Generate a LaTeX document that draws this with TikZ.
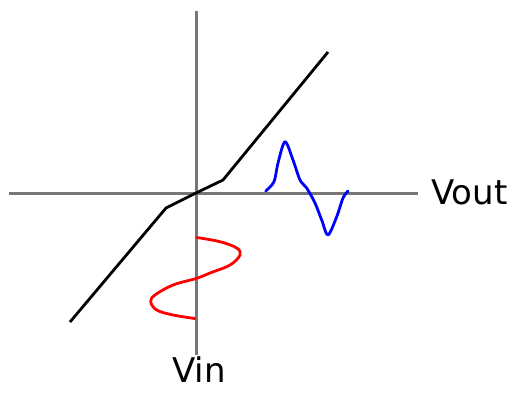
\documentclass[tikz,border=0pt]{standalone}
\usepackage{fontspec}
\setsansfont{DejaVu Sans}
\definecolor{axisgray}{RGB}{119,119,119}
\usetikzlibrary{positioning}

\begin{document}
\begin{tikzpicture}[
  x=1pt, y=-1pt,
  axis/.style={draw=axisgray, line width=3pt},
  transfer/.style={draw=black, line width=2.8pt, line join=round},
  wave/.style={line width=2.8pt, line join=round, line cap=round},
  lbl/.style={font=\sffamily\fontsize{34}{36}\selectfont, inner sep=0pt}
]
  \useasboundingbox (0,0) rectangle (513,392);

  \coordinate (xl) at (9,193);
  \coordinate (xr) at (418,193);
  \coordinate (yt) at (196,11);
  \coordinate (yb) at (196,355);
  \coordinate (o) at (196,193);

  \draw[axis] (xl) -- (xr);
  \draw[axis] (yt) -- (yb);

  \coordinate (k1) at (70,322);
  \coordinate (k2) at (166,208);
  \coordinate (k3) at (223,180);
  \coordinate (k4) at (328,52);
  \draw[transfer] (k1) -- (k2) -- (o) -- (k3) -- (k4);

  \draw[wave, red] plot[smooth, tension=0.6] coordinates {
    (196.7,237.5) (220,241.7) (236.7,248) (240,255) (230,265) (210,273)
    (196.7,278.3) (173,285) (155,295) (150.7,301.7) (156.7,310) (173,315) (195,318.5)};

  \draw[wave, blue] plot[smooth, tension=0.5] coordinates {
    (265.7,191) (274,181.7) (278,163) (285,141.7) (293,160) (300,180)
    (306.7,188) (315,203) (321.7,220) (328,235) (336.7,216.7) (343,198) (348,191)};

  \node[lbl, anchor=base west] (vout) at (431,204) {Vout};
  \node[lbl, anchor=base] (vin) at (199,382) {Vin};
\end{tikzpicture}
\end{document}
